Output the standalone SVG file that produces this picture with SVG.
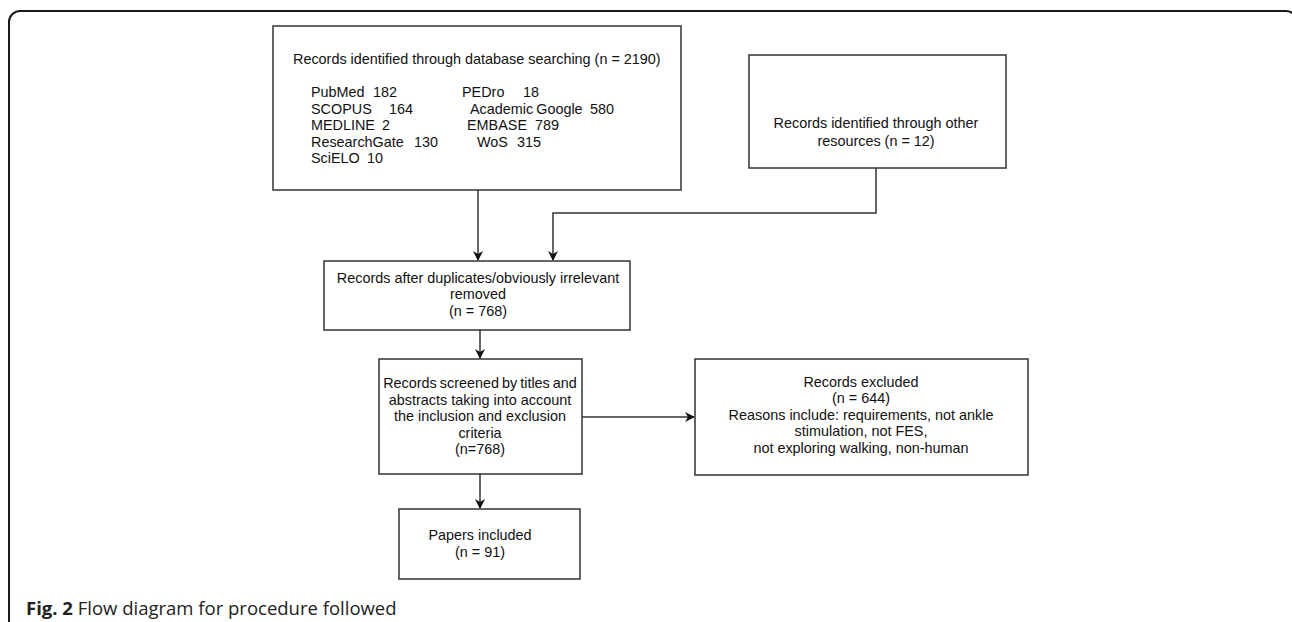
<svg xmlns="http://www.w3.org/2000/svg" width="1292" height="622" viewBox="0 0 1292 622">
<defs>
<marker id="ah" markerWidth="10" markerHeight="10" refX="9" refY="5" orient="auto" markerUnits="userSpaceOnUse">
<path d="M0,0 L10,5 L0,10 L3,5 Z" fill="#111"/>
</marker>
<style>
.box{fill:#fff;stroke:#333;stroke-width:1.5}
.t{font-family:"Liberation Sans",Arial,sans-serif;font-size:14.4px;fill:#111}
.c{text-anchor:middle}
.conn{fill:none;stroke:#333;stroke-width:1.5}
.cap{font-family:"Open Sans","Noto Sans",sans-serif;font-size:18.5px;fill:#222}
</style>
</defs>
<rect width="1292" height="622" fill="#fff"/>
<rect x="9" y="11" width="1288" height="700" rx="11" fill="none" stroke="#1a1a1a" stroke-width="2"/>

<g id="connectors">
<path class="conn" d="M478,190 V260" marker-end="url(#ah)"/>
<path class="conn" d="M876,168 V213 H553 V260" marker-end="url(#ah)"/>
<path class="conn" d="M480,330 V358" marker-end="url(#ah)"/>
<path class="conn" d="M582,417 H694" marker-end="url(#ah)"/>
<path class="conn" d="M480,474 V508" marker-end="url(#ah)"/>
</g>

<g id="db">
<rect class="box" x="273" y="26" width="408" height="164"/>
<text class="t" x="293" y="64">Records identified through database searching (n = 2190)</text>
<text class="t" y="97"><tspan x="311">PubMed</tspan><tspan x="373">182</tspan><tspan x="462">PEDro</tspan><tspan x="523">18</tspan></text>
<text class="t" y="114"><tspan x="311">SCOPUS</tspan><tspan x="389">164</tspan><tspan x="470" word-spacing="-1">Academic Google</tspan><tspan x="590">580</tspan></text>
<text class="t" y="130"><tspan x="311">MEDLINE</tspan><tspan x="382">2</tspan><tspan x="467">EMBASE</tspan><tspan x="535">789</tspan></text>
<text class="t" y="147"><tspan x="311">ResearchGate</tspan><tspan x="414">130</tspan><tspan x="477">WoS</tspan><tspan x="517">315</tspan></text>
<text class="t" y="163"><tspan x="311">SciELO</tspan><tspan x="367">10</tspan></text>
</g>

<g id="other">
<rect class="box" x="749" y="55" width="257" height="113"/>
<text class="t c" x="876" y="128">Records identified through other</text>
<text class="t c" x="876" y="146">resources (n = 12)</text>
</g>

<g id="dedup">
<rect class="box" x="324" y="261" width="306" height="69"/>
<text class="t c" x="478" y="283">Records after duplicates/obviously irrelevant</text>
<text class="t c" x="478" y="299">removed</text>
<text class="t c" x="478" y="316">(n = 768)</text>
</g>

<g id="screened">
<rect class="box" x="379" y="359" width="203" height="115"/>
<text class="t c" x="480" y="388" word-spacing="-1">Records screened by titles and</text>
<text class="t c" x="480" y="405">abstracts taking into account</text>
<text class="t c" x="480" y="421">the inclusion and exclusion</text>
<text class="t c" x="480" y="438">criteria</text>
<text class="t c" x="480" y="454">(n=768)</text>
</g>

<g id="excluded">
<rect class="box" x="695" y="359" width="333" height="116"/>
<text class="t c" x="861" y="387">Records excluded</text>
<text class="t c" x="861" y="403">(n = 644)</text>
<text class="t c" x="861" y="420">Reasons include: requirements, not ankle</text>
<text class="t c" x="861" y="436">stimulation, not FES,</text>
<text class="t c" x="861" y="453">not exploring walking, non-human</text>
</g>

<g id="included">
<rect class="box" x="399" y="509" width="181" height="70"/>
<text class="t c" x="480" y="540">Papers included</text>
<text class="t c" x="480" y="557">(n = 91)</text>
</g>

<text class="cap" x="26" y="615"><tspan font-weight="bold">Fig. 2</tspan> Flow diagram for procedure followed</text>
</svg>
